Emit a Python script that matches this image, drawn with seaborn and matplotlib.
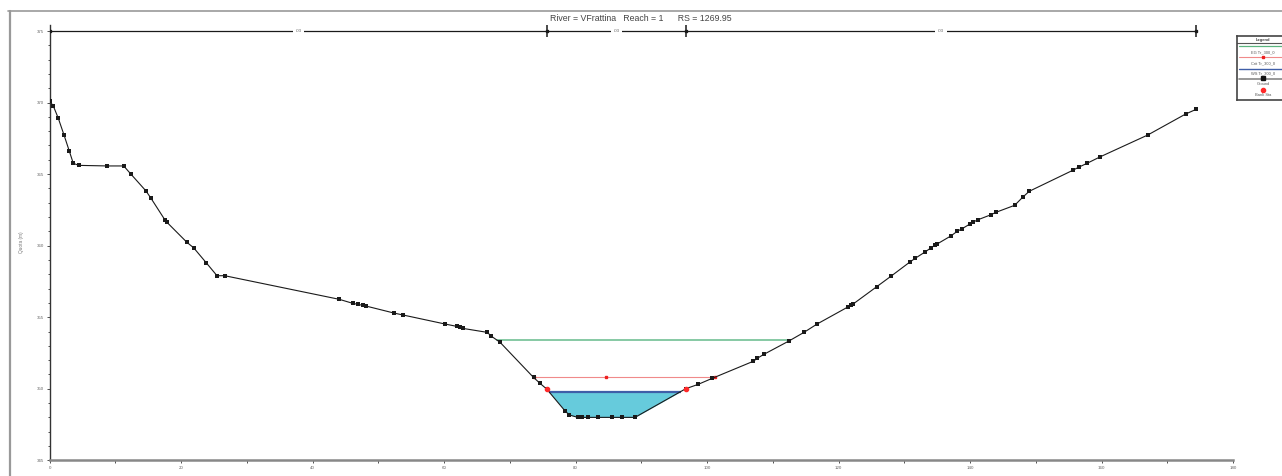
import numpy as np
import pandas as pd
import matplotlib
matplotlib.use("Agg")
import matplotlib.pyplot as plt
from matplotlib.lines import Line2D
import seaborn as sns

# Cross-section ground survey (station m, elevation m)
station = [0.0, 0.55, 1.31, 2.18, 2.98, 3.59, 4.46, 8.76, 11.26, 12.37, 14.65, 15.41,
           17.54, 17.84, 20.88, 21.90, 23.82, 25.45, 26.62, 44.05, 46.09, 46.85, 47.61,
           48.11, 52.37, 53.79, 60.18, 61.91, 62.41, 62.82, 66.57, 67.13, 68.50, 73.60,
           74.58, 75.60, 78.39, 79.04, 80.32, 81.02, 81.93, 83.45, 85.49, 87.01, 89.03,
           96.75, 98.66, 100.79, 107.03, 107.64, 108.66, 112.46, 114.74, 116.72, 121.48,
           121.84, 122.15, 125.80, 128.02, 130.86, 131.67, 133.10, 134.10, 134.71, 135.01,
           137.05, 138.05, 138.77, 139.98, 140.49, 141.20, 143.18, 143.94, 146.79, 148.00,
           149.01, 155.65, 156.52, 157.78, 159.76, 167.02, 172.80, 174.41]
elevation = [370.10, 369.76, 368.90, 367.73, 366.61, 365.75, 365.61, 365.57, 365.57, 364.99,
             363.82, 363.31, 361.79, 361.63, 360.23, 359.85, 358.80, 357.90, 357.90, 356.25,
             355.97, 355.90, 355.83, 355.78, 355.29, 355.15, 354.52, 354.36, 354.29, 354.22,
             353.94, 353.69, 353.25, 350.79, 350.38, 349.98, 348.45, 348.17, 348.00, 348.00,
             348.00, 348.00, 348.00, 348.00, 348.00, 350.00, 350.31, 350.73, 351.92, 352.13,
             352.41, 353.34, 353.94, 354.52, 355.73, 355.83, 355.90, 357.13, 357.88, 358.86,
             359.12, 359.54, 359.86, 360.05, 360.12, 360.67, 361.00, 361.18, 361.51, 361.65,
             361.81, 362.16, 362.33, 362.82, 363.38, 363.80, 365.27, 365.48, 365.75, 366.20,
             367.73, 369.20, 369.53]

bank_stations = [75.60, 96.75]
bank_elevations = [349.98, 350.00]

ws_elev = 349.80      # WS Tr_300_0
crit_elev = 350.80    # Crit Tr_300_0
eg_elev = 353.38      # EG Tr_300_0
crit_marks = [73.60, 84.60, 101.15]

n_values = [".03", ".03", ".03"]
n_breaks = [0.0, 75.60, 96.75, 174.41]

title = "River = VFrattina   Reach = 1      RS = 1269.95"
legend_labels = ["EG Tr_300_0", "Crit Tr_300_0", "WS Tr_300_0", "Ground", "Bank Sta"]

ground = pd.DataFrame({"Station": station, "Elevation": elevation})

sns.set_style("white")
plt.rcParams["font.family"] = ["Liberation Sans", "DejaVu Sans"]

W, H = 1282, 476
fig = plt.figure(figsize=(W / 100, H / 100), dpi=100)
ax = fig.add_axes([49.7 / W, 1 - 460.3 / H, (1233 - 49.7) / W, (460.3 - 25) / H])

st = np.array(station)
el = np.array(elevation)


def crossings(level, center=86.0):
    """Stations where the ground crosses a level, nearest the channel on each side."""
    pts = []
    for i in range(len(st) - 1):
        a, b = el[i] - level, el[i + 1] - level
        if a == 0:
            pts.append(st[i])
        elif a * b < 0:
            pts.append(st[i] + (st[i + 1] - st[i]) * a / (a - b))
    left = max(p for p in pts if p < center)
    right = min(p for p in pts if p > center)
    return left, right


# water in the main channel
wl, wr = crossings(ws_elev)
fine = np.linspace(wl, wr, 400)
ax.fill_between(fine, np.interp(fine, st, el), ws_elev, color="#66cbdc", lw=0, zorder=1)
ax.plot([wl, wr], [ws_elev, ws_elev], color="#3f5ea8", lw=1.6, zorder=2,
        solid_capstyle="butt")

# critical depth line
cl, cr = crossings(crit_elev)
ax.plot([cl, cr], [crit_elev, crit_elev], color="#f08a8a", lw=0.8, zorder=2)
ax.plot(crit_marks, [crit_elev] * len(crit_marks), ls="none", marker="s",
        ms=1.8, color="#ee2020", zorder=3)

# energy grade line
el_, er_ = crossings(eg_elev)
ax.plot([el_, er_], [eg_elev, eg_elev], color="#86c9a4", lw=1.4, zorder=2)

# ground profile
sns.lineplot(data=ground, x="Station", y="Elevation", sort=False, ax=ax,
             color="#1a1a1a", lw=0.8, marker="s", markersize=2.2,
             markeredgewidth=0, zorder=4)

# bank stations
ax.plot(bank_stations, bank_elevations, ls="none", marker="o", ms=3.0,
        color="#ff2a2a", zorder=5)

# Manning's n bar along the top
n_y = 375.0
ax.plot([n_breaks[0], n_breaks[-1]], [n_y, n_y], color="#1a1a1a", lw=0.9, zorder=3)
ax.plot(n_breaks, [n_y] * len(n_breaks), ls="none", marker="s", ms=2.0,
        color="#1a1a1a", zorder=3)
ax.plot(n_breaks[1:], [n_y] * (len(n_breaks) - 1), ls="none", marker="|", ms=8,
        mew=1.1, color="#1a1a1a", zorder=3)
for k, lab in enumerate(n_values):
    mid = 0.5 * (n_breaks[k] + n_breaks[k + 1])
    ax.text(mid, n_y, lab, fontsize=3.2, color="#666666", ha="center", va="center",
            bbox=dict(boxstyle="square,pad=0.6", fc="white", ec="none"), zorder=4)

ax.set_xlim(0, 180)
ax.set_ylim(345, 375.42)
ax.set_xticks(np.arange(0, 181, 20))
ax.set_xticks(np.arange(0, 181, 10), minor=True)
ax.set_yticks(np.arange(345, 376, 5))
ax.set_yticks(np.arange(345, 376, 1), minor=True)
ax.set_xticklabels([str(v) for v in range(0, 181, 20)])
ax.set_yticklabels([str(v) for v in range(345, 376, 5)])
ax.tick_params(axis="both", which="both", direction="out", labelsize=3.2,
               labelcolor="#666666", color="#333333", pad=1.5)
ax.tick_params(which="major", length=2.5, width=0.6)
ax.tick_params(which="minor", length=1.8, width=0.6)
ax.tick_params(axis="x", which="both", bottom=True)
ax.tick_params(axis="y", which="both", left=True)
ax.set_xlabel("")
ax.set_ylabel("Quota (m)", fontsize=3.4, color="#777777", labelpad=9)
for side in ["top", "right"]:
    ax.spines[side].set_visible(False)
ax.spines["left"].set_color("#333333")
ax.spines["left"].set_linewidth(1.0)
ax.spines["bottom"].set_color("#888888")
ax.spines["bottom"].set_linewidth(1.8)
ax.patch.set_alpha(0)

fig.text(0.5, 1 - 18.5 / H, title, fontsize=6.3, color="#444444", ha="center", va="center")

# outer frame
fig.add_artist(Line2D([8 / W, 1.0], [1 - 11 / H] * 2, color="#999999", lw=1.2))
fig.add_artist(Line2D([10 / W] * 2, [0, 1 - 11 / H], color="#999999", lw=1.6))

# legend panel
lg = fig.add_axes([1237.3 / W, 1 - 100 / H, (W - 1237.3 + 6) / W, 64.3 / H])
lg.set_xlim(1237.3, W + 6)
lg.set_ylim(100, 35.7)
lg.set_xticks([])
lg.set_yticks([])
for side in lg.spines.values():
    side.set_color("#444444")
    side.set_linewidth(1.2)
cx = 1263
lg.text(cx, 39.5, "Legend", fontsize=3.0, fontweight="bold", color="#444444",
        ha="center", va="center")
lg.plot([1237.3, W + 6], [43.3, 43.3], color="#555555", lw=0.8)
lg.plot([1239, W + 6], [46, 46], color="#5bb57f", lw=0.9)
lg.text(cx, 52, legend_labels[0], fontsize=2.9, color="#555555", ha="center", va="center")
lg.plot([1239, W + 6], [57.3, 57.3], color="#f08a8a", lw=0.8)
lg.plot([cx], [57.3], marker="s", ms=1.8, color="#ee2020")
lg.text(cx, 63, legend_labels[1], fontsize=2.9, color="#555555", ha="center", va="center")
lg.plot([1239, W + 6], [68.7, 68.7], color="#3f5ea8", lw=1.0)
lg.text(cx, 73, legend_labels[2], fontsize=2.9, color="#555555", ha="center", va="center")
lg.plot([1239, W + 6], [78.7, 78.7], color="#888888", lw=1.2)
lg.plot([cx], [78.2], marker="s", ms=2.6, color="#111111")
lg.text(cx, 84, legend_labels[3], fontsize=2.9, color="#555555", ha="center", va="center")
lg.plot([cx], [89.7], marker="o", ms=3.0, color="#ff2a2a")
lg.text(cx, 95.3, legend_labels[4], fontsize=2.9, color="#555555", ha="center", va="center")

fig.savefig("out.png", dpi=100)
